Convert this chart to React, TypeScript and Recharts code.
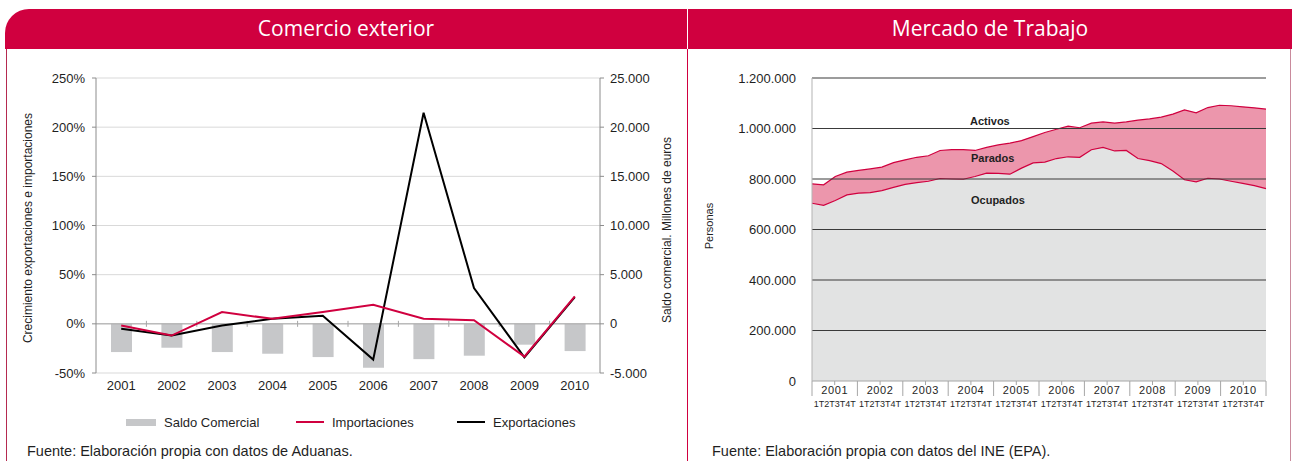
import React from "react";
import {
	Area,
	AreaChart,
	Bar,
	CartesianGrid,
	ComposedChart,
	Line,
	ReferenceLine,
	XAxis,
	YAxis,
} from "recharts";

const RED = "#d0003f";
const FONT = "'Liberation Sans', Arial, sans-serif";
const TEXT = "#1f1f1f";

// Comercio exterior
const years = ["2001", "2002", "2003", "2004", "2005", "2006", "2007", "2008", "2009", "2010"];
const saldoComercial = [-2870, -2430, -2870, -3040, -3380, -4460, -3590, -3240, -2120, -2770];
const importaciones = [-1.7, -11.9, 11.9, 5.1, 12, 19.4, 5.1, 3.7, -33.3, 27.9];
const exportaciones = [-5.1, -11.9, -1.7, 5.1, 8.2, -36.4, 214.6, 36.4, -34, 27.2];
const pctTicks = [-50, 0, 50, 100, 150, 200, 250];
const eurTicks = [-5000, 0, 5000, 10000, 15000, 20000, 25000];

// Mercado de Trabajo (trimestral 2001-2010)
const quarterLabel = "1T2T3T4T";
const ocupados = [
	704000, 696000, 715000, 737000, 744000, 746000, 754000, 767000, 779000, 786000,
	791000, 802000, 800000, 799000, 810000, 823000, 822000, 819000, 843000, 864000,
	867000, 881000, 888000, 886000, 916000, 925000, 911000, 913000, 881000, 873000,
	861000, 832000, 797000, 789000, 803000, 800000, 791000, 783000, 774000, 762000,
];
const activos = [
	781000, 777000, 810000, 827000, 834000, 840000, 847000, 865000, 876000, 886000,
	892000, 913000, 916000, 916000, 913000, 925000, 935000, 942000, 952000, 968000,
	984000, 997000, 1009000, 1003000, 1021000, 1026000, 1021000, 1026000, 1033000, 1038000,
	1045000, 1057000, 1074000, 1062000, 1083000, 1092000, 1090000, 1086000, 1082000, 1077000,
];
const personasTicks = [0, 200000, 400000, 600000, 800000, 1000000, 1200000];

const fmtMiles = (v: number) =>
	(v < 0 ? "-" : "") + String(Math.abs(v)).replace(/\B(?=(\d{3})+(?!\d))/g, ".");

const comercioData = years.map((year, i) => ({
	year,
	saldo: saldoComercial[i],
	imp: importaciones[i],
	exp: exportaciones[i],
}));

const trabajoData = ocupados.map((v, i) => ({ i, ocupados: v, activos: activos[i] }));
const lastQ = ocupados.length - 1;
// year boundaries / centres expressed in the axis' number domain
const toAxis = (q: number) => (q * lastQ) / ocupados.length;
const xTicks = [
	...years.map((_, k) => toAxis(4 * k)),
	toAxis(ocupados.length),
	...years.map((_, k) => toAxis(4 * k + 2)),
];

// zero line with category separators
const ZeroLine = (p: any) => {
	const { x1, x2, y1 } = p;
	const step = (x2 - x1) / years.length;
	return (
		<g>
			<line x1={x1} x2={x2} y1={y1} y2={y1} stroke="#a6a6a6" strokeWidth={1} />
			{years.slice(1).map((_, k) => (
				<line
					key={k}
					x1={x1 + (k + 1) * step}
					x2={x1 + (k + 1) * step}
					y1={y1 - 3}
					y2={y1 + 3}
					stroke="#a6a6a6"
				/>
			))}
		</g>
	);
};

const QuarterTick = (p: any) => {
	const { x, y, payload } = p;
	const q = (payload.value * ocupados.length) / lastQ;
	const r = q / 4;
	if (Math.abs(r - Math.round(r)) < 0.01) {
		return <line x1={x} x2={x} y1={y} y2={y + 15} stroke="#a6a6a6" />;
	}
	const k = Math.round((q - 2) / 4);
	return (
		<g>
			<line x1={x} x2={x} y1={y} y2={y + 4} stroke="#a6a6a6" />
			<text x={x} y={y + 13} textAnchor="middle" fontSize={11} letterSpacing={0.6} fill={TEXT} fontFamily={FONT}>
				{years[k]}
			</text>
			<text x={x} y={y + 26} textAnchor="middle" fontSize={9} fill={TEXT} fontFamily={FONT}>
				{quarterLabel}
			</text>
		</g>
	);
};

const abs = (left: number, top: number): React.CSSProperties => ({ position: "absolute", left, top });

const Rotated = ({ cx, cy, size, children }: { cx: number; cy: number; size: number; children: string }) => (
	<div
		style={{
			...abs(cx - 150, cy - 8),
			width: 300,
			height: 16,
			lineHeight: "16px",
			textAlign: "center",
			fontSize: size,
			color: TEXT,
			transform: "rotate(-90deg)",
			whiteSpace: "nowrap",
		}}
	>
		{children}
	</div>
);

const Header = ({ left, width, title, radius }: { left: number; width: number; title: string; radius: number }) => (
	<div
		style={{
			...abs(left, 9),
			width,
			height: 40,
			background: RED,
			borderTopLeftRadius: radius,
			color: "#fff",
			fontFamily: "'Open Sans', sans-serif",
			fontSize: 21,
			lineHeight: "38px",
			textAlign: "center",
		}}
	>
		{title}
	</div>
);

const LegendItem = ({ left, swatch, label }: { left: number; swatch: React.ReactNode; label: string }) => (
	<div style={{ ...abs(left, 414), display: "flex", alignItems: "center", height: 16, whiteSpace: "nowrap" }}>
		{swatch}
		<span style={{ marginLeft: 8, fontSize: 13 }}>{label}</span>
	</div>
);

const footer: React.CSSProperties = { fontSize: 14.5, whiteSpace: "nowrap" };

export default function App() {
	return (
		<div
			style={{
				...abs(0, 0),
				width: 1292,
				height: 461,
				background: "#fff",
				overflow: "hidden",
				fontFamily: FONT,
				color: TEXT,
			}}
		>
			<Header left={5} width={682} title="Comercio exterior" radius={24} />
			<Header left={688} width={604} title="Mercado de Trabajo" radius={0} />
			<div style={{ ...abs(6, 49), width: 1, height: 412, background: "#b52a50" }} />
			<div style={{ ...abs(687, 49), width: 1, height: 412, background: RED }} />
			<div style={{ ...abs(1290, 49), width: 1, height: 412, background: "#c98a9c" }} />

			<div style={abs(0, 0)}>
				<ComposedChart
					width={690}
					height={400}
					data={comercioData}
					margin={{ top: 78, right: 30, bottom: 0, left: 36 }}
				>
					<CartesianGrid yAxisId="pct" vertical={false} stroke="#d9d9d9" />
					<XAxis
						dataKey="year"
						axisLine={false}
						tickLine={false}
						tickSize={0}
						tickMargin={8}
						height={27}
						tick={{ fontSize: 13, fill: TEXT, fontFamily: FONT }}
					/>
					<YAxis
						yAxisId="pct"
						domain={[-50, 250]}
						ticks={pctTicks}
						tickFormatter={(v: number) => `${v}%`}
						width={60}
						stroke="#8c8c8c"
						tickSize={4}
						tickMargin={7}
						tick={{ fontSize: 13, fill: TEXT, fontFamily: FONT }}
					/>
					<YAxis
						yAxisId="eur"
						orientation="right"
						domain={[-5000, 25000]}
						ticks={eurTicks}
						tickFormatter={fmtMiles}
						width={60}
						stroke="#8c8c8c"
						tickSize={4}
						tickMargin={6}
						tick={{ fontSize: 13, fill: TEXT, fontFamily: FONT }}
					/>
					<Bar yAxisId="eur" dataKey="saldo" fill="#c6c7c9" barSize={21} isAnimationActive={false} />
					<ReferenceLine yAxisId="pct" y={0} shape={ZeroLine} />
					<Line
						yAxisId="pct"
						type="linear"
						dataKey="exp"
						stroke="#000"
						strokeWidth={2}
						dot={false}
						isAnimationActive={false}
					/>
					<Line
						yAxisId="pct"
						type="linear"
						dataKey="imp"
						stroke={RED}
						strokeWidth={2}
						dot={false}
						isAnimationActive={false}
					/>
				</ComposedChart>
			</div>
			<Rotated cx={28} cy={228} size={12}>Crecimiento exportaciones e importaciones</Rotated>
			<Rotated cx={667} cy={230} size={12}>Saldo comercial. Millones de euros</Rotated>

			<LegendItem
				left={126}
				label="Saldo Comercial"
				swatch={<div style={{ width: 30, height: 7, background: "#c6c7c9" }} />}
			/>
			<LegendItem
				left={296}
				label="Importaciones"
				swatch={<div style={{ width: 28, height: 2, background: RED }} />}
			/>
			<LegendItem
				left={457}
				label="Exportaciones"
				swatch={<div style={{ width: 28, height: 2, background: "#000" }} />}
			/>
			<div style={{ ...abs(27, 443), ...footer }}>Fuente: Elaboración propia con datos de Aduanas.</div>

			<div style={abs(690, 0)}>
				<AreaChart
					width={600}
					height={420}
					data={trabajoData}
					margin={{ top: 78, right: 24, bottom: 9, left: 32 }}
				>
					<XAxis
						type="number"
						dataKey="i"
						domain={[0, lastQ]}
						ticks={xTicks}
						interval={0}
						tickLine={false}
						tickSize={0}
						tickMargin={0}
						height={30}
						stroke="#a6a6a6"
						tick={<QuarterTick />}
					/>
					<YAxis
						yAxisId="p"
						domain={[0, 1200000]}
						ticks={personasTicks}
						tickFormatter={fmtMiles}
						width={90}
						stroke="#b3b3b3"
						tickLine={false}
						tickMargin={10}
						tick={{ fontSize: 13, fill: TEXT, fontFamily: FONT }}
					/>
					<YAxis yAxisId="borde" orientation="right" width={0} tick={false} tickLine={false} stroke="#b3b3b3" domain={[0, 1200000]} />
					<Area
						yAxisId="p"
						type="linear"
						dataKey="activos"
						stroke={RED}
						strokeWidth={1.2}
						fill="#ec96ac"
						fillOpacity={1}
						dot={false}
						isAnimationActive={false}
					/>
					<Area
						yAxisId="p"
						type="linear"
						dataKey="ocupados"
						stroke={RED}
						strokeWidth={1.2}
						fill="#e2e3e3"
						fillOpacity={1}
						dot={false}
						isAnimationActive={false}
					/>
					{personasTicks.slice(1).map((t) => (
						<ReferenceLine key={t} yAxisId="p" y={t} stroke="#3a3a3a" strokeWidth={1.2} />
					))}
				</AreaChart>
			</div>
			<Rotated cx={709} cy={226} size={11}>Personas</Rotated>
			<div style={{ ...abs(970, 115), fontSize: 11, fontWeight: 700 }}>Activos</div>
			<div style={{ ...abs(971, 152), fontSize: 11, fontWeight: 700 }}>Parados</div>
			<div style={{ ...abs(971, 194), fontSize: 11, fontWeight: 700 }}>Ocupados</div>
			<div style={{ ...abs(712, 443), ...footer }}>Fuente: Elaboración propia con datos del INE (EPA).</div>
		</div>
	);
}
